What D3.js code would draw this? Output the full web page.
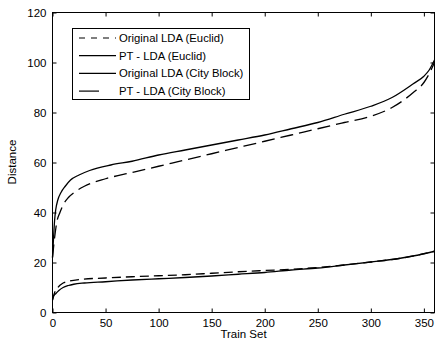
<!DOCTYPE html>
<html><head><meta charset="utf-8">
<script src="https://cdn.jsdelivr.net/npm/d3@7"></script>
<style>body{margin:0;background:#fff}svg{display:block}text{font-family:"Liberation Sans",Arial,sans-serif;fill:#000}</style>
</head><body><svg id="c" width="437" height="345"></svg>
<script>
const seriesNames = ["Original LDA (Euclid)", "PT - LDA (Euclid)", "Original LDA (City Block)", "PT - LDA (City Block)"];
const xTicks = [0, 50, 100, 150, 200, 250, 300, 350];
const yTicks = [0, 20, 40, 60, 80, 100, 120];
// lower pair
const origEuclid = [[0,5],[2,8],[5,10],[10,11.8],[15,12.5],[25,13.2],[50,13.8],[75,14.3],[100,14.7],[125,15.1],[150,15.7],[175,16.3],[200,16.8],[225,17.3],[250,18],[275,19],[300,20.2],[325,21.5],[345,23],[360,24.5]];
const ptEuclid = [[0,5],[1,6.5],[3,7.5],[6,8.8],[10,10],[15,10.8],[20,11.3],[30,11.8],[50,12.3],[75,13],[100,13.5],[125,14],[150,14.6],[175,15.3],[200,16],[225,17],[250,17.8],[275,19],[300,20.2],[325,21.5],[345,23],[360,24.5]];
// upper pair
const origCity = [[0,22],[2,30],[4,36],[7,40],[10,43],[15,46],[22,48.5],[30,50.5],[50,53.5],[75,56],[100,58.5],[125,61],[150,63.5],[175,66],[200,68.5],[225,71],[250,73.5],[275,76],[300,78.5],[320,82],[340,88],[350,92],[355,95.5],[360,100]];
const ptCity = [[0,22],[1,30],[2,37],[3,41],[5,45],[8,48],[12,50.5],[17,53],[25,55],[35,56.8],[55,59],[75,60.5],[100,63],[125,65],[150,67],[175,69],[200,71],[225,73.5],[250,76],[275,79.3],[300,82.5],[320,86],[340,91.5],[350,94.5],[355,97],[360,101]];
const seriesData = [origEuclid, ptEuclid, origCity, ptCity];
const plotDash = ["9,5", null, "13,6", null];
const legendDash = ["6,6", null, null, null];

const svg = d3.select("#c");
const L = 52.5, R = 434.5, T = 12.5, B = 312.5;
const x = d3.scaleLinear().domain([0, 360]).range([L, R]);
const y = d3.scaleLinear().domain([0, 120]).range([B, T]);

svg.append("g").attr("transform", `translate(0,${B})`)
  .call(d3.axisBottom(x).tickValues(xTicks).tickSizeInner(-4).tickSizeOuter(0).tickPadding(6))
  .call(g => { g.select(".domain").remove(); g.selectAll("text").attr("font-size", 11.5); });
svg.append("g").attr("transform", `translate(0,${T})`)
  .call(d3.axisTop(x).tickValues(xTicks).tickSizeInner(-4).tickSizeOuter(0).tickFormat(""))
  .call(g => g.select(".domain").remove());
svg.append("g").attr("transform", `translate(${L},0)`)
  .call(d3.axisLeft(y).tickValues(yTicks).tickSizeInner(-4).tickSizeOuter(0).tickPadding(6))
  .call(g => { g.select(".domain").remove(); g.selectAll("text").attr("font-size", 11.5); });
svg.append("g").attr("transform", `translate(${R},0)`)
  .call(d3.axisRight(y).tickValues(yTicks).tickSizeInner(-4).tickSizeOuter(0).tickFormat(""))
  .call(g => g.select(".domain").remove());

svg.append("rect").attr("x", L).attr("y", T).attr("width", R - L).attr("height", B - T)
  .attr("fill", "none").attr("stroke", "#000").attr("stroke-width", 1);

const line = d3.line().x(d => x(d[0])).y(d => y(d[1])).curve(d3.curveMonotoneX);
seriesData.forEach((s, i) => {
  svg.append("path").datum(s).attr("d", line).attr("fill", "none")
    .attr("stroke", "#000").attr("stroke-width", 1.3)
    .attr("stroke-dasharray", plotDash[i]);
});

svg.append("text").attr("x", (L + R) / 2).attr("y", 338).attr("text-anchor", "middle")
  .attr("font-size", 11.5).text("Train Set");
svg.append("text").attr("transform", "translate(16,162) rotate(-90)").attr("text-anchor", "middle")
  .attr("font-size", 11.5).text("Distance");

const lg = svg.append("g");
lg.append("rect").attr("x", 72.5).attr("y", 28.5).attr("width", 177).attr("height", 71)
  .attr("fill", "#fff").attr("stroke", "#000").attr("stroke-width", 1);
seriesNames.forEach((n, i) => {
  const yy = 38 + i * 17.7;
  lg.append("line").attr("x1", 79).attr("x2", i === 3 ? 99 : 116).attr("y1", yy).attr("y2", yy)
    .attr("stroke", "#000").attr("stroke-width", 1.2).attr("stroke-dasharray", legendDash[i]);
  lg.append("text").attr("x", 119).attr("y", yy).attr("dy", "0.35em").attr("font-size", 11.3).text(n);
});
</script></body></html>
